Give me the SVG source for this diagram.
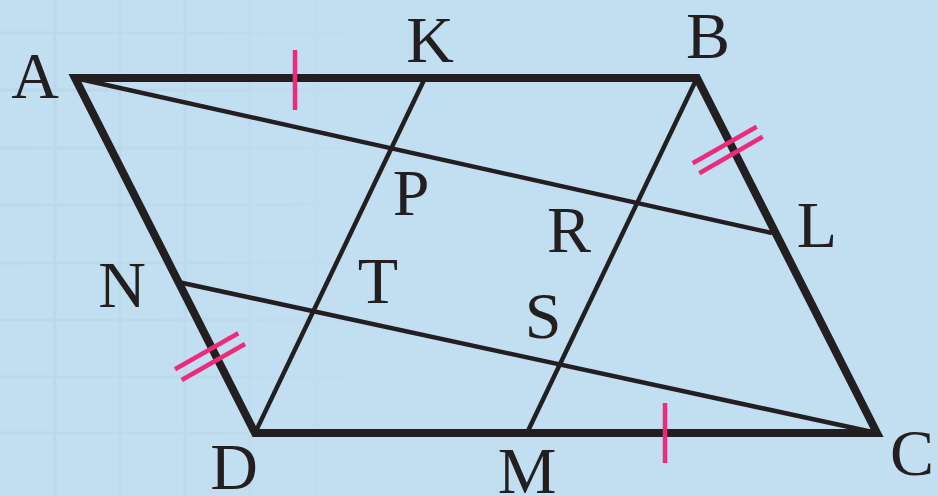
<svg xmlns="http://www.w3.org/2000/svg" width="938" height="496" viewBox="0 0 938 496">
<defs>
<linearGradient id="fade" x1="0" y1="0" x2="1" y2="0">
<stop offset="0" stop-color="#c1dff0" stop-opacity="0"/>
<stop offset="0.55" stop-color="#c1dff0" stop-opacity="0.3"/>
<stop offset="1" stop-color="#c1dff0" stop-opacity="1"/>
</linearGradient>
</defs>
<style>
.bg{fill:#c1dff0}
.grid{stroke:#b4d4e7;stroke-width:3;fill:none}
.side{stroke:#231f20;stroke-width:8;fill:none;stroke-linejoin:miter;stroke-linecap:butt}
.seg{stroke:#231f20;stroke-width:4.5;fill:none}
.tick{stroke:#ec2c7a;stroke-width:4.5;fill:none}
.lbl{font-family:'Liberation Serif','Times New Roman',serif;font-size:66px;fill:#231f20;text-anchor:middle}
</style>
<rect class="bg" x="0" y="0" width="938" height="496"/>
<g id="grid">
<path class="grid" d="M55 0V496M120 0V496M185 0V496M250 0V496M315 0V496M0 33H360M0 90H360M0 148H360M0 205H360M0 263H360M0 320H360M0 377H360M0 433H360"/>
<rect x="0" y="0" width="380" height="496" fill="url(#fade)"/>
<rect x="0" y="0" width="938" height="496" fill="#c1dff0" opacity="0.4"/>
</g>
<g id="connectors">
<line class="seg" x1="425" y1="78" x2="255" y2="433"/>
<line class="seg" x1="697" y1="78" x2="527" y2="433"/>
<line class="seg" x1="75" y1="78" x2="772" y2="233"/>
<line class="seg" x1="178" y1="282" x2="877" y2="433"/>
<polygon class="side" points="75,78 697,78 877,433 255,433"/>
</g>
<g id="ticks">
<line class="tick" x1="295" y1="50" x2="295" y2="110"/>
<line class="tick" x1="665" y1="403" x2="665" y2="463"/>
<line class="tick" x1="692.7" y1="163.3" x2="756.7" y2="126.7"/>
<line class="tick" x1="699.3" y1="173.3" x2="762.7" y2="136.7"/>
<line class="tick" x1="175" y1="369.3" x2="238.3" y2="333.3"/>
<line class="tick" x1="181.7" y1="380" x2="245" y2="344"/>
</g>
<g id="A"><text class="lbl" font-family="Liberation Serif" x="35" y="98">A</text></g>
<g id="K"><text class="lbl" font-family="Liberation Serif" x="430" y="62">K</text></g>
<g id="B"><text class="lbl" font-family="Liberation Serif" x="708" y="58">B</text></g>
<g id="P"><text class="lbl" font-family="Liberation Serif" x="411" y="215">P</text></g>
<g id="R"><text class="lbl" font-family="Liberation Serif" x="569" y="252">R</text></g>
<g id="T"><text class="lbl" font-family="Liberation Serif" x="378" y="303">T</text></g>
<g id="S"><text class="lbl" font-family="Liberation Serif" x="543" y="338">S</text></g>
<g id="L"><text class="lbl" font-family="Liberation Serif" x="817" y="247">L</text></g>
<g id="N"><text class="lbl" font-family="Liberation Serif" x="122" y="307">N</text></g>
<g id="D"><text class="lbl" font-family="Liberation Serif" x="234" y="489">D</text></g>
<g id="M"><text class="lbl" font-family="Liberation Serif" x="527" y="493">M</text></g>
<g id="C"><text class="lbl" font-family="Liberation Serif" x="912" y="475">C</text></g>
</svg>
